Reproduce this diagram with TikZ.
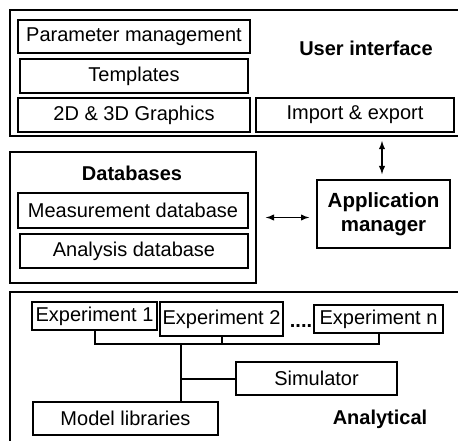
\documentclass[tikz,border=0pt]{standalone}
\usepackage{fontspec}
\setmainfont{Liberation Sans}
\begin{document}
\begin{tikzpicture}[x=1pt,y=-1pt,
    every node/.style={font=\fontsize{20}{22}\selectfont},
    blk/.style={draw,line width=2pt,inner sep=0pt},
    frame/.style={draw,line width=1.6pt},
    lbl/.style={font=\fontsize{20}{22}\selectfont\bfseries},
    >=latex]
  \useasboundingbox (0,0) rectangle (458,441);
  % user interface
  \draw[frame] (470,10) -- (10,10) -- (10,136) -- (470,136);
  \node[blk,minimum width=232,minimum height=33] (param) at (134,36.5) {Parameter management};
  \node[blk,minimum width=228,minimum height=34] (templ) at (134,76) {Templates};
  \node[blk,minimum width=232,minimum height=34] (graph) at (134,115) {2D \& 3D Graphics};
  \node[blk,minimum width=198,minimum height=34] (impex) at (355,115) {Import \& export};
  \node[lbl] (ui) at (366,48) {User interface};
  \coordinate (uibot) at (382,136);
  % databases and manager
  \node[frame,minimum width=246,minimum height=131] (db) at (133,217.5) {};
  \node[lbl] (dbl) at (132,173) {Databases};
  \node[blk,minimum width=230,minimum height=35] (meas) at (133,210.5) {Measurement database};
  \node[blk,minimum width=228,minimum height=34] (anal) at (134,251) {Analysis database};
  \node[frame,minimum width=133,minimum height=68,align=center,
        font=\fontsize{20.5}{24}\selectfont\bfseries] (appman) at (383.5,214) {Application\\manager};
  \draw[<->,line width=1.8pt,shorten <=5pt,shorten >=5pt] (uibot) -- (uibot |- appman.north);
  \draw[<->,line width=1.8pt,shorten <=9pt,shorten >=7pt] (db.east) -- (db.east -| appman.west);
  % analytical
  \draw[frame] (470,292) -- (10,292) -- (10,450);
  \node[blk,minimum width=125,minimum height=28] (exp1) at (94.5,316) {Experiment 1};
  \node[blk,minimum width=123,minimum height=34] (exp2) at (221.5,319) {Experiment 2};
  \node[anchor=base,font=\fontsize{20}{22}\selectfont\bfseries,inner sep=0pt] (dots) at (301,327) {....};
  \node[blk,minimum width=129,minimum height=28] (expn) at (378.5,319) {Experiment n};
  \node[blk,minimum width=161,minimum height=33,line width=2.5pt] (sim) at (316.5,378.5) {Simulator};
  \node[blk,minimum width=185,minimum height=33] (model) at (125.5,418.5) {Model libraries};
  \node[lbl] (an) at (380,419) {Analytical};
  \coordinate (bus) at (181,344);
  \draw[line width=2pt] (exp1.south) |- (expn.south |- bus) -- (expn.south);
  \draw[line width=2pt] (exp2.south) -- (exp2.south |- bus);
  \draw[line width=2pt] (bus) -- (bus |- model.north);
  \draw[line width=2pt] (bus |- sim) -- (sim.west);
\end{tikzpicture}
\end{document}
